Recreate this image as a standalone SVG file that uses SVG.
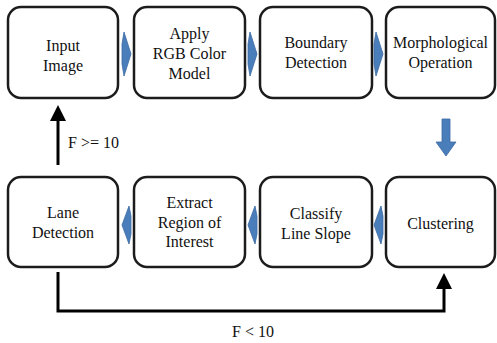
<svg xmlns="http://www.w3.org/2000/svg" width="497" height="343" viewBox="0 0 497 343">
<style>
.box{fill:#fff;stroke:#1c1c1c;stroke-width:2.5}
.t{font-family:"Liberation Serif","Times New Roman",serif;font-size:16px;fill:#111;text-anchor:middle}
.lbl{font-family:"Liberation Serif","Times New Roman",serif;font-size:16px;fill:#111}
.blue{fill:#4a7ebb;stroke:#3b6aa3;stroke-width:0.8}
.line{fill:none;stroke:#000;stroke-width:3}
</style>
<rect width="497" height="343" fill="#fff"/>
<g id="n1"><rect class="box" x="8" y="7" width="110" height="91" rx="13"/><text class="t" x="63" y="51">Input</text><text class="t" x="63" y="71">Image</text></g>
<g id="n2"><rect class="box" x="134" y="7" width="111" height="91" rx="13"/><text class="t" x="189.5" y="39">Apply</text><text class="t" x="189.5" y="59">RGB Color</text><text class="t" x="189.5" y="79">Model</text></g>
<g id="n3"><rect class="box" x="260" y="7" width="112" height="91" rx="13"/><text class="t" x="316" y="48">Boundary</text><text class="t" x="316" y="68">Detection</text></g>
<g id="n4"><rect class="box" x="386" y="7" width="109" height="91" rx="13"/><text class="t" x="440.5" y="48">Morphological</text><text class="t" x="440.5" y="68">Operation</text></g>
<g id="n5"><rect class="box" x="8" y="177" width="110" height="90" rx="13"/><text class="t" x="63" y="218">Lane</text><text class="t" x="63" y="238">Detection</text></g>
<g id="n6"><rect class="box" x="134" y="177" width="111" height="90" rx="13"/><text class="t" x="189.5" y="208">Extract</text><text class="t" x="189.5" y="228">Region of</text><text class="t" x="189.5" y="247">Interest</text></g>
<g id="n7"><rect class="box" x="260" y="177" width="112" height="90" rx="13"/><text class="t" x="316" y="219">Classify</text><text class="t" x="316" y="239">Line Slope</text></g>
<g id="n8"><rect class="box" x="386" y="177" width="109" height="90" rx="13"/><text class="t" x="440.5" y="229">Clustering</text></g>
<g id="connectors">
<polygon class="blue" points="124,32 131,54 124,76 122,64 122,44"/>
<polygon class="blue" points="250,32 257,54 250,76 248,64 248,44"/>
<polygon class="blue" points="376,32 383,54 376,76 374,64 374,44"/>
<polygon class="blue" points="129,206 122,225 129,244 131,234 131,216"/>
<polygon class="blue" points="255,206 248,225 255,244 257,234 257,216"/>
<polygon class="blue" points="381,206 374,225 381,244 383,234 383,216"/>
<polygon class="blue" points="442,119 450,119 450,142 456,142 446,156 436,142 442,142"/>
<line class="line" x1="58" y1="165" x2="58" y2="118"/>
<polygon points="58,105 50,121 66,121" fill="#000"/>
<polyline class="line" points="58,272 58,311 444,311 444,286"/>
<polygon points="444,273 436,289 452,289" fill="#000"/>
<text class="lbl" x="68" y="148">F &gt;= 10</text>
<text class="lbl" x="232" y="337">F &lt; 10</text>
</g>
</svg>
